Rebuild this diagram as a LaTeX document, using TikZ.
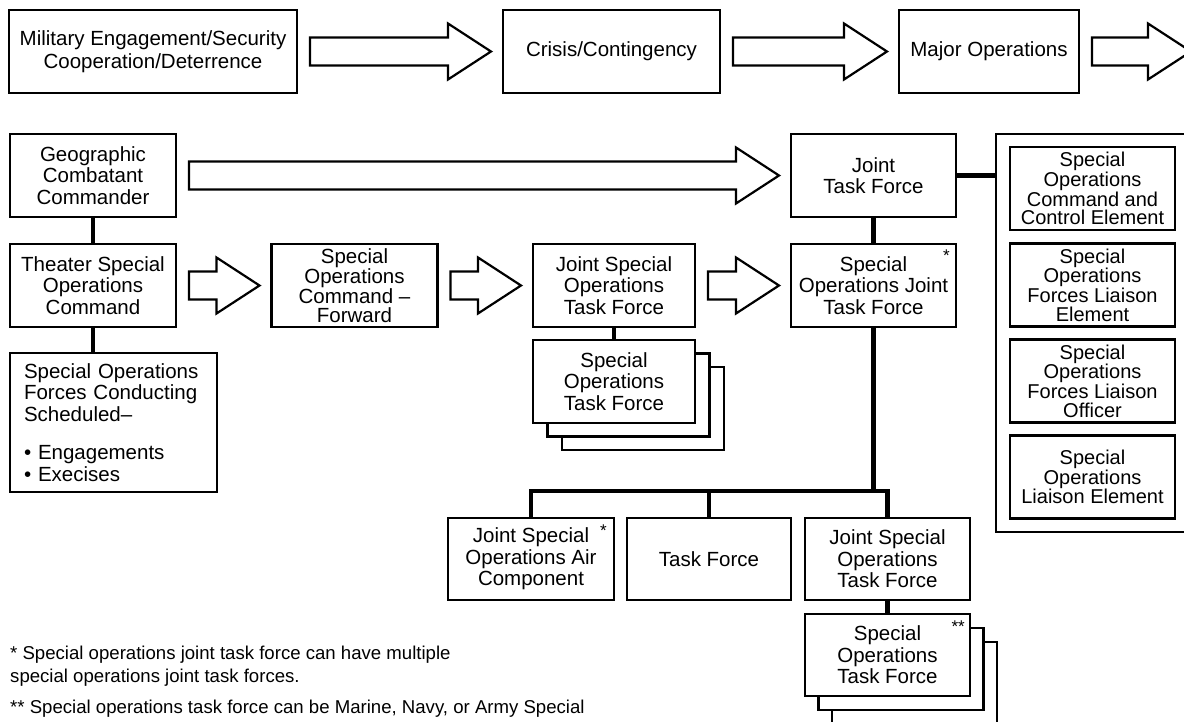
\documentclass[tikz,border=0pt]{standalone}
\usepackage{fontspec}
\setmainfont{Liberation Sans}
\usepackage{tikz}
\usetikzlibrary{calc,backgrounds}

\tikzset{
  box/.style={draw, line width=2.4pt, fill=white, outer sep=0pt, inner sep=2pt,
    minimum width=166pt, minimum height=83pt, align=center,
    font=\fontsize{20.5}{21.5}\selectfont},
  topbox/.style={box, minimum width=#1, font=\fontsize{20.5}{23}\selectfont},
  elembox/.style={box, minimum width=165pt, font=\fontsize{20}{18.5}\selectfont},
  stackline/.style={draw, line width=2.4pt, fill=white},
  tree/.style={line width=4.5pt},
  arrowline/.style={line width=2.2pt, line join=miter},
  star/.style={inner sep=0pt, anchor=north east, font=\fontsize{17}{17}\selectfont},
  note/.style={inner sep=0pt, anchor=north west, align=left,
    font=\fontsize{18.6}{23}\selectfont},
}

% hollow block arrow between two anchors
\newcommand{\blockarrow}[2]{%
  \draw[arrowline] let \p1=($(#1)+(13pt,0pt)$), \p2=($(#2)+(-12pt,0pt)$) in
    (\x1,\y1+14pt) -- (\x2-43pt,\y1+14pt) -- (\x2-43pt,\y1+28pt) -- (\x2,\y1)
    -- (\x2-43pt,\y1-28pt) -- (\x2-43pt,\y1-14pt) -- (\x1,\y1-14pt) -- cycle;}

\begin{document}
\begin{tikzpicture}[x=1pt, y=-1pt]
\useasboundingbox (0,0) rectangle (1184,721);

% phases
\node[topbox=288pt] (phase1) at (153,51.5) {Military Engagement/Security\\Cooperation/Deterrence};
\node[topbox=217pt] (phase2) at (611.5,51.5) {Crisis/Contingency};
\node[topbox=180pt] (phase3) at (989,51.5) {Major Operations};
\coordinate (offpage) at (1203,51.5);
\blockarrow{phase1.east}{phase2.west}
\blockarrow{phase2.east}{phase3.west}
\blockarrow{phase3.east}{offpage}

% theater side
\node[box] (gcc) at (93,175.5) {Geographic\\Combatant\\Commander};
\node[box] (tsoc) at (93,285.5) {Theater Special\\Operations\\Command};
\node[box, minimum width=207pt, minimum height=139pt, text width=179pt, align=left] (sof) at (113.5,422.5)
  {Special Operations\\Forces Conducting\\Scheduled–\\[17pt]• Engagements\\• Execises};
\draw[tree] (gcc) -- (tsoc);
\draw[tree] (tsoc) -- (tsoc.south |- sof.north);

% forward elements
\node[box, font=\fontsize{20.5}{18.3}\selectfont] (socfwd) at (354.5,285.5) {Special\\Operations\\Command –\\Forward};
\node[box, minimum width=162pt] (jsotf) at (614,285.5) {Joint Special\\Operations\\Task Force};
\node[box, minimum width=162pt] (sotf) at (614,381.5) {Special\\Operations\\Task Force};
\draw[tree] (jsotf) -- (sotf);

% joint task force
\node[box, minimum width=165pt] (jtf) at (873.5,175.5) {Joint\\Task Force};
\node[box, minimum width=165pt] (sojtf) at (873.5,285.5) {Special\\Operations Joint\\Task Force};
\node[star] (sojtfstar) at ($(sojtf.north east)+(-6,6)$) {*};
\draw[tree] (jtf) -- (sojtf);

\blockarrow{gcc.east}{jtf.west}
\blockarrow{tsoc.east}{socfwd.west}
\blockarrow{socfwd.east}{jsotf.west}
\blockarrow{jsotf.east}{sojtf.west}

% liaison elements
\node[draw, line width=2.4pt, minimum width=193pt, minimum height=398pt] (elems) at (1092.5,333) {};
\node[elembox] (c2e) at (1092.5,188.5) {Special\\Operations\\Command and\\Control Element};
\node[elembox] (sofle) at (1092.5,285) {Special\\Operations\\Forces Liaison\\Element};
\node[elembox] (soflo) at (1092.5,381) {Special\\Operations\\Forces Liaison\\Officer};
\node[elembox] (sole) at (1092.5,477) {Special\\Operations\\Liaison Element};
\draw[tree] (jtf.east) -- (jtf.east -| elems.west);

% components
\coordinate (bus) at (874,491);
\node[box, minimum height=82pt] (jsoac) at (531,559) {Joint Special\\Operations Air\\Component};
\node[star] (jsoacstar) at ($(jsoac.north east)+(-7,7)$) {*};
\node[box, minimum width=164pt, minimum height=82pt] (tf) at (709,559) {Task Force};
\node[box, minimum width=165pt, minimum height=82pt] (jsotf2) at (887.5,559) {Joint Special\\Operations\\Task Force};
\node[box, minimum width=165pt, minimum height=82pt] (sotf2) at (887.5,655) {Special\\Operations\\Task Force};
\node[star] (sotf2star) at ($(sotf2.north east)+(-5,7)$) {**};
\draw[tree] (sojtf) -- (sojtf.south |- bus);
\draw[tree] (jsoac) -- (jsoac.north |- bus) -- (jsotf2.north |- bus) -- (jsotf2);
\draw[tree] (tf) -- (tf.north |- bus);
\draw[tree] (jsotf2) -- (sotf2);

% stacked copies behind the task forces
\begin{scope}[on background layer]
\foreach \k in {2,1}{
  \draw[stackline] ($(sotf.north west)+(14.5*\k,13.5*\k)$) rectangle ($(sotf.south east)+(14.5*\k,13.5*\k)$);
  \draw[stackline] ($(sotf2.north west)+(13.5*\k,14*\k)$) rectangle ($(sotf2.south east)+(13.5*\k,14*\k)$);
}
\end{scope}

% footnotes
\node[note] (note1) at (10,646) {* Special operations joint task force can have multiple\\special operations joint task forces.};
\node[note] (note2) at (10,700) {** Special operations task force can be Marine, Navy, or Army Special};
\end{tikzpicture}
\end{document}
